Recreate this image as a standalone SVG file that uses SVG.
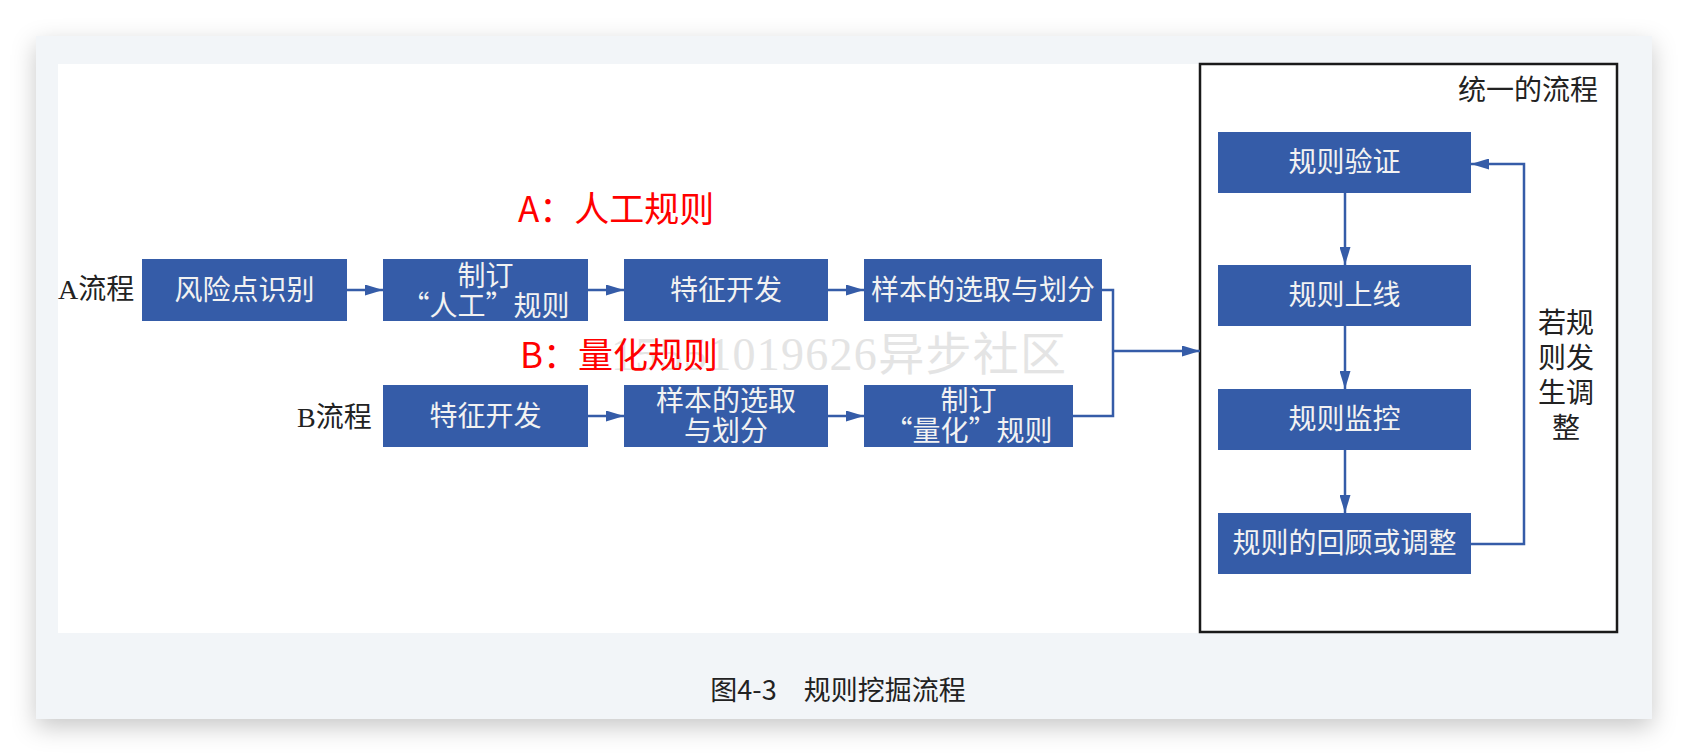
<svg xmlns="http://www.w3.org/2000/svg" width="1688" height="756" viewBox="0 0 1688 756">
<defs>
<filter id="shadow" x="-5%" y="-10%" width="110%" height="125%">
<feDropShadow dx="0" dy="8" stdDeviation="12" flood-color="#000" flood-opacity="0.22"/>
</filter>
<marker id="arr" markerUnits="userSpaceOnUse" markerWidth="18" markerHeight="11" refX="18" refY="5.5" orient="auto">
<path d="M0,0 L18,5.5 L0,11 z" fill="#355ca8"/>
</marker>
<style>
.box{fill:#355ca8;}
.bt{font-family:"Noto Sans CJK SC","Liberation Serif",sans-serif;font-size:28px;fill:#f2f2f2;text-anchor:middle;}
.lbl{font-family:"Liberation Serif","Noto Sans CJK SC",serif;font-size:28px;fill:#222;}
.red{font-family:"Noto Sans CJK SC","Liberation Sans",sans-serif;font-size:35px;fill:#ff0000;}
.conn{fill:none;stroke:#355ca8;stroke-width:2.5;}
</style>
</defs>
<rect x="0" y="0" width="1688" height="756" fill="#ffffff"/>
<rect x="36" y="36" width="1616" height="683" fill="#f2f5f8" filter="url(#shadow)"/>
<rect x="58" y="64" width="1560" height="569" fill="#ffffff"/>

<!-- watermark -->
<text x="611" y="370" font-family="Liberation Serif,Noto Sans CJK SC,serif" font-size="46" fill="#e4e4e4" textLength="455">15551019626异步社区</text>

<!-- unified frame -->
<g id="unified">
<rect x="1200" y="64" width="417" height="568" fill="none" stroke="#1a1a1a" stroke-width="2.5"/>
<text class="lbl" x="1598" y="100" text-anchor="end">统一的流程</text>
</g>

<g id="labels">
<text class="lbl" x="58" y="299">A流程</text>
<text class="lbl" x="297" y="427">B流程</text>
<text class="red" x="518" y="222">A：人工规则</text>
<text class="red" x="520" y="368">B：量化规则</text>
<text class="lbl" x="1566" y="333" text-anchor="middle">若规</text>
<text class="lbl" x="1566" y="368" text-anchor="middle">则发</text>
<text class="lbl" x="1566" y="403" text-anchor="middle">生调</text>
<text class="lbl" x="1566" y="438" text-anchor="middle">整</text>
</g>

<g id="connectors">
<path class="conn" d="M347,290 H383" marker-end="url(#arr)"/>
<path class="conn" d="M588,290 H624" marker-end="url(#arr)"/>
<path class="conn" d="M828,290 H864" marker-end="url(#arr)"/>
<path class="conn" d="M588,416 H624" marker-end="url(#arr)"/>
<path class="conn" d="M828,416 H864" marker-end="url(#arr)"/>
<path class="conn" d="M1102,290 H1113 V416 H1073"/>
<path class="conn" d="M1113,351 H1200" marker-end="url(#arr)"/>
<path class="conn" d="M1345,193 V265" marker-end="url(#arr)"/>
<path class="conn" d="M1345,326 V389" marker-end="url(#arr)"/>
<path class="conn" d="M1345,450 V513" marker-end="url(#arr)"/>
<path class="conn" d="M1471,544 H1524 V164 H1471" marker-end="url(#arr)"/>
</g>

<g id="a1"><rect class="box" x="142" y="259" width="205" height="62"/><text class="bt" x="244.5" y="300">风险点识别</text></g>
<g id="a2"><rect class="box" x="383" y="259" width="205" height="62"/><text class="bt" x="485.5" y="285.5">制订</text><text class="bt" x="485.5" y="315.5">“人工”规则</text></g>
<g id="a3"><rect class="box" x="624" y="259" width="204" height="62"/><text class="bt" x="726" y="300">特征开发</text></g>
<g id="a4"><rect class="box" x="864" y="259" width="238" height="62"/><text class="bt" x="983" y="300">样本的选取与划分</text></g>

<g id="b1"><rect class="box" x="383" y="385" width="205" height="62"/><text class="bt" x="485.5" y="426">特征开发</text></g>
<g id="b2"><rect class="box" x="624" y="385" width="204" height="62"/><text class="bt" x="726" y="411">样本的选取</text><text class="bt" x="726" y="441">与划分</text></g>
<g id="b3"><rect class="box" x="864" y="385" width="209" height="62"/><text class="bt" x="968.5" y="411">制订</text><text class="bt" x="968.5" y="441">“量化”规则</text></g>

<g id="u1"><rect class="box" x="1218" y="132" width="253" height="61"/><text class="bt" x="1344.5" y="172">规则验证</text></g>
<g id="u2"><rect class="box" x="1218" y="265" width="253" height="61"/><text class="bt" x="1344.5" y="305">规则上线</text></g>
<g id="u3"><rect class="box" x="1218" y="389" width="253" height="61"/><text class="bt" x="1344.5" y="429">规则监控</text></g>
<g id="u4"><rect class="box" x="1218" y="513" width="253" height="61"/><text class="bt" x="1344.5" y="553">规则的回顾或调整</text></g>

<text x="838" y="700" font-family="Noto Sans CJK SC,Liberation Sans,sans-serif" font-size="27" fill="#222" text-anchor="middle">图4-3　规则挖掘流程</text>
</svg>
